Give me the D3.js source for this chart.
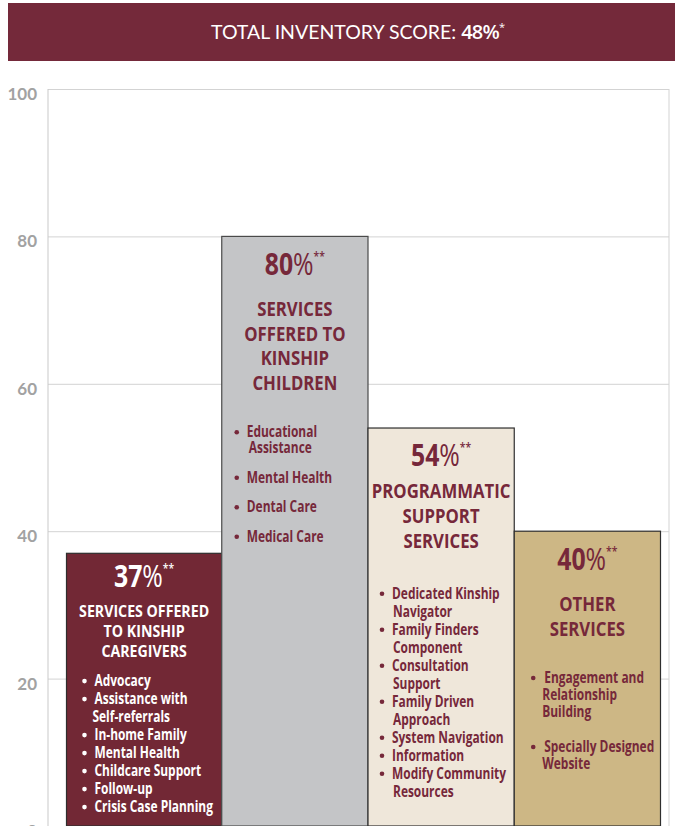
<!DOCTYPE html>
<html>
<head>
<meta charset="utf-8">
<script src="https://cdn.jsdelivr.net/npm/d3@7"></script>
<style>
  html, body { margin: 0; padding: 0; background: #ffffff; }
  svg { display: block; }
</style>
</head>
<body>
<svg id="chart" width="683" height="826"></svg>
<script>
// ---- data ----
const categories = [
  "Services Offered to Kinship Caregivers",
  "Services Offered to Kinship Children",
  "Programmatic Support Services",
  "Other Services"
];
const scores = [37, 80, 54, 40];
const totalScore = 48;
const yTicks = [0, 20, 40, 60, 80, 100];
const titleLines = [
  ["SERVICES OFFERED", "TO KINSHIP", "CAREGIVERS"],
  ["SERVICES", "OFFERED TO", "KINSHIP", "CHILDREN"],
  ["PROGRAMMATIC", "SUPPORT", "SERVICES"],
  ["OTHER", "SERVICES"]
];
const serviceItems = [
  [["Advocacy"], ["Assistance with", "Self-referrals"], ["In-home Family"], ["Mental Health"],
   ["Childcare Support"], ["Follow-up"], ["Crisis Case Planning"]],
  [["Educational", "Assistance"], ["Mental Health"], ["Dental Care"], ["Medical Care"]],
  [["Dedicated Kinship", "Navigator"], ["Family Finders", "Component"], ["Consultation", "Support"],
   ["Family Driven", "Approach"], ["System Navigation"], ["Information"], ["Modify Community", "Resources"]],
  [["Engagement and", "Relationship", "Building"], ["Specially Designed", "Website"]]
];

// ---- styling ----
const maroon = "#74293a";
const inkDark = "#76283a";
const blockStyle = [
  { fill: "#722835", ink: "#ffffff", pctY: 34, titleY: 64, titleSize: 16.5, titleLead: 20,
    listY: 133, lineLead: 18, itemGap: 18, dotX: 18, textX: 28, wrapX: 26 },
  { fill: "#c4c5c7", ink: inkDark, pctY: 39, titleY: 80, titleSize: 19.5, titleLead: 24.5,
    listY: 201, lineLead: 16, itemGap: 29.5, dotX: 15, textX: 25, wrapX: 27 },
  { fill: "#efe7da", ink: inkDark, pctY: 38, titleY: 70, titleSize: 19.5, titleLead: 25,
    listY: 171, lineLead: 18, itemGap: 18, dotX: 14, textX: 24, wrapX: 25 },
  { fill: "#cdb785", ink: inkDark, pctY: 39, titleY: 80, titleSize: 19.5, titleLead: 25,
    listY: 152, lineLead: 17, itemGap: 35, dotX: 19, textX: 30, wrapX: 28 }
];
const FONT = "'Open Sans', 'Noto Sans', sans-serif";
const squeeze = { pct: 0.8, title: 0.86, item: 0.77 };
const firstBarLead = 9;

const plot = { left: 48, right: 669, top: 89, bottom: 826 };

const svg = d3.select("#chart");

// ---- header banner ----
svg.append("rect")
  .attr("x", 8).attr("y", 3).attr("width", 667).attr("height", 58)
  .attr("fill", maroon);
const head = svg.append("text")
  .attr("x", 358).attr("y", 39)
  .attr("text-anchor", "middle")
  .attr("fill", "#ffffff");
head.append("tspan").text("TOTAL INVENTORY SCORE: ")
  .style("font-family", "Lato, sans-serif").style("font-size", "19.5px").style("font-weight", 400);
head.append("tspan").text(totalScore + "%")
  .style("font-family", FONT).style("font-size", "20px").style("font-weight", 600)
  .style("letter-spacing", "-0.8px");
head.append("tspan").text("*").attr("dy", -8)
  .style("font-family", FONT).style("font-size", "11px");

// ---- scales ----
const y = d3.scaleLinear().domain([0, 100]).range([plot.bottom, plot.top]);
const x = d3.scaleBand().domain(categories).range([75.5, 660.5]).padding(0);

// ---- grid + y axis ----
const axis = svg.append("g")
  .attr("transform", `translate(${plot.left},0)`)
  .call(d3.axisLeft(y).tickValues(yTicks)
    .tickSize(-(plot.right - plot.left)).tickPadding(11).tickFormat(d3.format("d")));
axis.select(".domain").remove();
axis.selectAll(".tick line").attr("stroke", "#d3d3d3").attr("stroke-width", 1);
axis.selectAll(".tick text")
  .attr("y", 5)
  .attr("fill", "#a2a2a2")
  .style("font-family", "Lato, sans-serif")
  .style("font-size", "17px")
  .style("font-weight", 700);

// frame sides
svg.append("line").attr("x1", plot.left).attr("x2", plot.left)
  .attr("y1", plot.top).attr("y2", plot.bottom).attr("stroke", "#c9c9c9");
svg.append("line").attr("x1", plot.right).attr("x2", plot.right)
  .attr("y1", plot.top).attr("y2", plot.bottom).attr("stroke", "#d3d3d3");

// ---- bars ----
const barX = (i) => x(categories[i]) - (i === 0 ? firstBarLead : 0);
const barW = (i) => x.bandwidth() + (i === 0 ? firstBarLead : 0);

svg.append("g").selectAll("rect")
  .data(scores)
  .join("rect")
  .attr("x", (d, i) => barX(i))
  .attr("y", d => y(d))
  .attr("width", (d, i) => barW(i))
  .attr("height", d => y(0) - y(d))
  .attr("fill", (d, i) => blockStyle[i].fill)
  .attr("stroke", (d, i) => i === 1 ? "#4a4a4a" : "#2e2e2e")
  .attr("stroke-width", 1.2);

// ---- text inside each bar ----
scores.forEach((score, i) => {
  const st = blockStyle[i];
  const left = barX(i);
  const cx = left + barW(i) / 2;
  const top = y(score);
  const g = svg.append("g").attr("fill", st.ink).style("font-family", FONT);

  // percentage
  const pct = g.append("text")
    .attr("text-anchor", "middle")
    .attr("transform", `translate(${cx},${top + st.pctY}) scale(${squeeze.pct},1)`);
  pct.append("tspan").text(score).style("font-size", "31px").style("font-weight", 700);
  pct.append("tspan").text("%").style("font-size", "31px").style("font-weight", 400);
  pct.append("tspan").text("**").attr("dy", -14).style("font-size", "13px").style("font-weight", 600);

  // title
  titleLines[i].forEach((line, j) => {
    g.append("text")
      .attr("text-anchor", "middle")
      .attr("transform", `translate(${cx},${top + st.titleY + j * st.titleLead}) scale(${squeeze.title},1)`)
      .style("font-size", st.titleSize + "px")
      .style("font-weight", 700)
      .text(line);
  });

  // bulleted list
  let by = top + st.listY;
  serviceItems[i].forEach((item, k) => {
    if (k > 0) by += st.itemGap;
    item.forEach((line, j) => {
      if (j > 0) by += st.lineLead;
      if (j === 0) {
        g.append("circle").attr("cx", left + st.dotX).attr("cy", by - 5.2).attr("r", 2.3);
      }
      g.append("text")
        .attr("transform", `translate(${left + (j === 0 ? st.textX : st.wrapX)},${by}) scale(${squeeze.item},1)`)
        .style("font-size", "15.5px")
        .style("font-weight", 700)
        .text(line);
    });
  });
});
</script>
</body>
</html>
